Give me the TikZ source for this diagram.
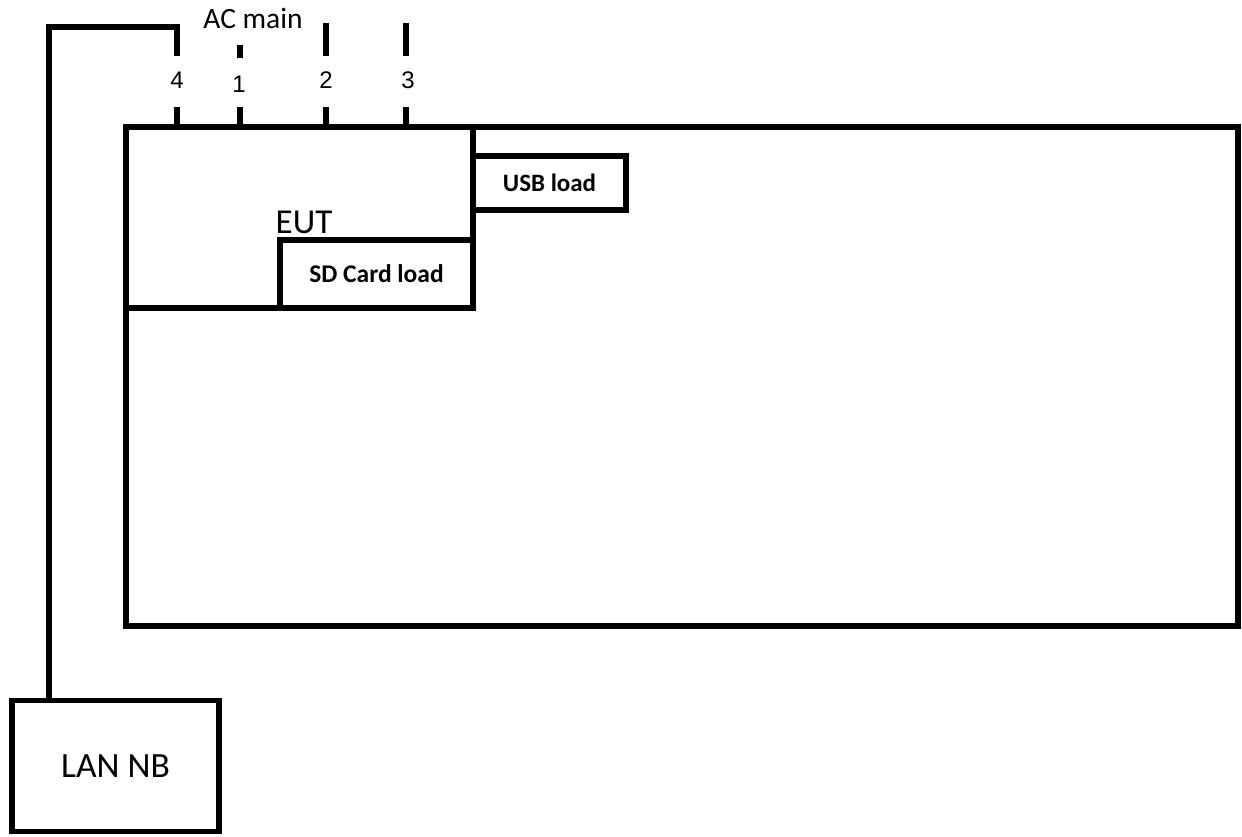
\documentclass[tikz,border=0pt]{standalone}
\usepackage{fontspec}
\setmainfont{Carlito}
\newfontfamily\arialf{Liberation Sans}
\begin{document}
\begin{tikzpicture}[x=1pt,y=-1pt,
  wire/.style={line width=5.5pt,line cap=rect,line join=miter},
  boxst/.style={draw,line width=5.5pt},
  lbl/.style={inner sep=0pt,anchor=center},
  numlbl/.style={inner sep=0pt,anchor=center,font=\arialf\fontsize{24}{26}\selectfont}]
\useasboundingbox (0,0) rectangle (1242,837);
% main box
\draw[wire] (126,127) rectangle (1238,626);
% EUT region
\draw[wire] (126,308) -- (280,308);
\draw[wire] (473,127) -- (473,240);
\node[lbl,font=\fontsize{35}{38}\selectfont] (eut) at (304,222) {EUT};
% USB load
\node[boxst,minimum width=153pt,minimum height=54pt,inner sep=0pt,font=\bfseries\fontsize{25}{27}\selectfont] (usb) at (549.5,183) {USB load};
% SD card load
\node[boxst,minimum width=193pt,minimum height=68pt,inner sep=0pt,font=\bfseries\fontsize{25.5}{27}\selectfont] (sd) at (376.5,274) {SD Card load};
% ports
\coordinate (p4a) at (177,127); \coordinate (p4b) at (177,107);
\coordinate (p1a) at (240,127); \coordinate (p1b) at (240,107);
\coordinate (p2a) at (326,127); \coordinate (p2b) at (326,107);
\coordinate (p3a) at (406,127); \coordinate (p3b) at (406,107);
\draw[line width=5.5pt] (p4a) -- (p4b);
\draw[line width=5.5pt] (p1a) -- (p1b);
\draw[line width=5.5pt] (p2a) -- (p2b);
\draw[line width=5.5pt] (p3a) -- (p3b);
\coordinate (u1a) at (240,45); \coordinate (u1b) at (240,58);
\coordinate (u2a) at (326,23); \coordinate (u2b) at (326,56);
\coordinate (u3a) at (406,23); \coordinate (u3b) at (406,56);
\draw[line width=5.5pt] (u1a) -- (u1b);
\draw[line width=5.5pt] (u2a) -- (u2b);
\draw[line width=5.5pt] (u3a) -- (u3b);
\node[numlbl] (n4) at (177,80) {4};
\node[numlbl] (n1) at (239,84) {1};
\node[numlbl] (n2) at (326,80) {2};
\node[numlbl] (n3) at (408,80) {3};
\node[lbl,font=\fontsize{29.5}{32}\selectfont] (ac) at (253,18) {AC main};
% LAN NB
\node[boxst,minimum width=207pt,minimum height=131pt,inner sep=0pt,font=\fontsize{35.5}{38}\selectfont] (lan) at (115.5,766) {LAN NB};
\coordinate (w4) at (177,56);
\draw[line width=5.5pt,line join=miter] (w4) -- (177,27) -- (49,27) -- (lan.north -| 49,0);
\end{tikzpicture}
\end{document}
